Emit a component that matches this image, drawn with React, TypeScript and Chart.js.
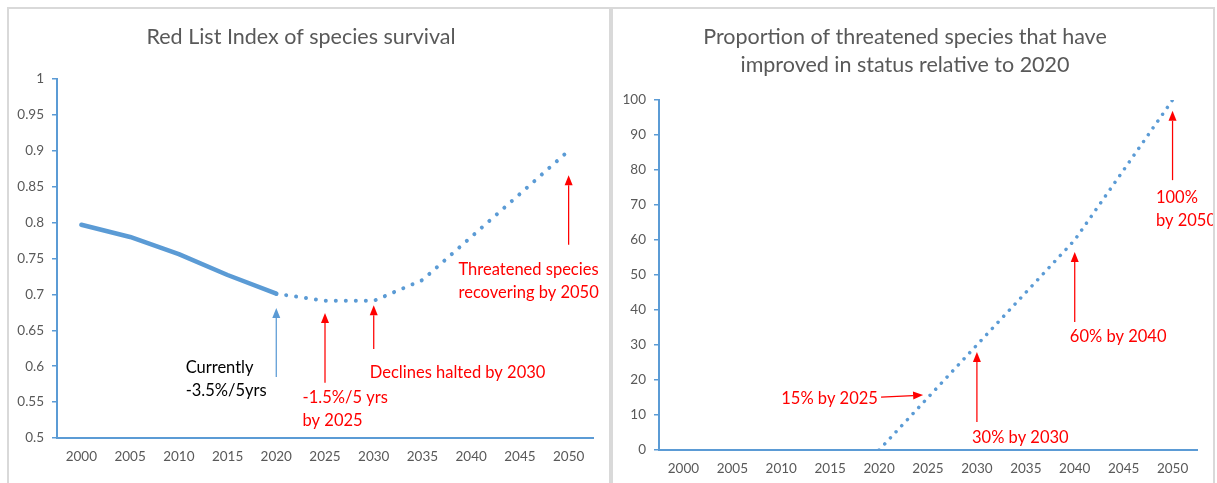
import React, { useEffect, useRef } from 'react';
import { Chart, registerables } from 'chart.js';

Chart.register(...registerables);

// ---------- data ----------
const YEARS = ['2000', '2005', '2010', '2015', '2020', '2025', '2030', '2035', '2040', '2045', '2050'];
const RLI_OBSERVED = [0.797, 0.78, 0.756, 0.727, 0.701, null, null, null, null, null, null];
const RLI_TARGET = [null, null, null, null, 0.701, 0.691, 0.691, 0.72, 0.78, 0.84, 0.9];
const IMPROVED_TARGET = [null, null, null, null, 0, 15, 30, 45, 60, 80, 100];
const RLI_TICKS = [0.5, 0.55, 0.6, 0.65, 0.7, 0.75, 0.8, 0.85, 0.9, 0.95, 1];
const IMPROVED_TICKS = [0, 10, 20, 30, 40, 50, 60, 70, 80, 90, 100];

const RLI_TITLE = 'Red List Index of species survival';
const IMPROVED_TITLE = ['Proportion of threatened species that have', 'improved in status relative to 2020'];

// ---------- styles ----------
const FONT = 'Lato, "Open Sans", sans-serif';
const BLUE = '#5B9BD5';
const RED = '#FF0000';
const BLACK = '#000000';
const GREY = '#595959';
const BORDER = '#D9D9D9';

// annotations (in data space: year, value)
const RLI_ARROWS = [
  { fromYear: 2020, from: 0.585, toYear: 2020, to: 0.681, color: BLUE },
  { fromYear: 2025, from: 0.577, toYear: 2025, to: 0.674, color: RED },
  { fromYear: 2030, from: 0.624, toYear: 2030, to: 0.685, color: RED },
  { fromYear: 2050, from: 0.769, toYear: 2050, to: 0.866, color: RED },
];
const RLI_NOTES = [
  { lines: ['Currently', '-3.5%/5yrs'], year: 2010.7, value: 0.5975, color: BLACK },
  { lines: ['-1.5%/5 yrs', 'by 2025'], year: 2022.7, value: 0.556, color: RED },
  { lines: ['Declines halted by 2030'], year: 2029.6, value: 0.5905, color: RED },
  { lines: ['Threatened species', 'recovering by 2050'], year: 2038.7, value: 0.734, color: RED },
];
const IMPROVED_ARROWS = [
  { fromYear: 2020.2, from: 15.1, toYear: 2024.5, to: 15.7, color: RED },
  { fromYear: 2030, from: 8, toYear: 2030, to: 28, color: RED },
  { fromYear: 2040, from: 36.6, toYear: 2040, to: 56.6, color: RED },
  { fromYear: 2050, from: 77.1, toYear: 2050, to: 96.9, color: RED },
];
const IMPROVED_NOTES = [
  { lines: ['15% by 2025'], year: 2010.0, value: 14.6, color: RED },
  { lines: ['30% by 2030'], year: 2029.5, value: 3.4, color: RED },
  { lines: ['60% by 2040'], year: 2039.5, value: 32.3, color: RED },
  { lines: ['100%', 'by 2050'], year: 2048.3, value: 72, color: RED },
];

function notesPlugin(arrows: any[], notes: any[]) {
  return {
    id: 'notes',
    afterDatasetsDraw(chart: any) {
      const { ctx, scales } = chart;
      const xs = scales.x;
      const ys = scales.y;
      const px = (year: number) => xs.getPixelForValue((year - 2000) / 5);
      ctx.save();
      for (const a of arrows) {
        const x1 = px(a.fromYear);
        const y1 = ys.getPixelForValue(a.from);
        const x2 = px(a.toYear);
        const y2 = ys.getPixelForValue(a.to);
        const dx = x2 - x1;
        const dy = y2 - y1;
        const len = Math.hypot(dx, dy);
        const ux = dx / len;
        const uy = dy / len;
        const hl = 10;
        const hw = 4;
        const bx = x2 - ux * hl;
        const by = y2 - uy * hl;
        ctx.strokeStyle = a.color;
        ctx.lineWidth = 1.25;
        ctx.beginPath();
        ctx.moveTo(x1, y1);
        ctx.lineTo(bx, by);
        ctx.stroke();
        ctx.fillStyle = a.color;
        ctx.beginPath();
        ctx.moveTo(x2, y2);
        ctx.lineTo(bx - uy * hw, by + ux * hw);
        ctx.lineTo(bx + uy * hw, by - ux * hw);
        ctx.closePath();
        ctx.fill();
      }
      ctx.font = `16.5px ${FONT}`;
      ctx.textAlign = 'left';
      ctx.textBaseline = 'middle';
      for (const n of notes) {
        const x = px(n.year);
        const y = ys.getPixelForValue(n.value);
        ctx.fillStyle = n.color;
        n.lines.forEach((t: string, i: number) => ctx.fillText(t, x, y + i * 22.5));
      }
      ctx.restore();
    },
  };
}

function buildConfig(p: any): any {
  return {
    type: 'line',
    data: { labels: YEARS, datasets: p.datasets },
    plugins: [notesPlugin(p.arrows, p.notes)],
    options: {
      responsive: false,
      animation: false,
      devicePixelRatio: 1,
      layout: { padding: { left: 0, right: p.padRight, top: 0, bottom: p.padBottom } },
      plugins: {
        legend: { display: false },
        tooltip: { enabled: false },
        title: {
          display: true,
          text: p.title,
          color: GREY,
          font: { family: FONT, size: 21.5, weight: 'normal', lineHeight: 28 / 21.5 },
          padding: { top: p.titleTop, bottom: p.titleBottom },
        },
      },
      elements: { point: { radius: 0 } },
      scales: {
        x: {
          type: 'category',
          offset: true,
          afterFit: (s: any) => { s.height = p.xHeight; },
          grid: { display: false, drawTicks: false },
          border: { display: true, color: BLUE, width: 2 },
          ticks: { color: GREY, font: { family: FONT, size: 13.5 }, padding: p.xPad, maxRotation: 0, autoSkip: false },
        },
        y: {
          min: p.yMin,
          max: p.yMax,
          afterBuildTicks: (s: any) => { s.ticks = p.yTicks.map((v: number) => ({ value: v })); },
          afterFit: (s: any) => { s.width = p.yWidth; },
          grid: { drawOnChartArea: false, drawTicks: true, tickLength: 5, color: BLUE, lineWidth: 1.5 },
          border: { display: true, color: BLUE, width: 2 },
          ticks: { color: GREY, font: { family: FONT, size: 13.5 }, padding: 8, callback: (v: any) => String(v) },
        },
      },
    },
  };
}

function ChartCanvas({ make }: { make: () => any }) {
  const ref = useRef<HTMLCanvasElement | null>(null);
  useEffect(() => {
    const c = new Chart(ref.current as HTMLCanvasElement, make());
    return () => c.destroy();
  }, []);
  return <canvas ref={ref} width={600} height={474} style={{ display: 'block' }} />;
}

const leftConfig = () =>
  buildConfig({
    title: RLI_TITLE,
    titleTop: 14,
    titleBottom: 28,
    padRight: 16,
    padBottom: 15,
    xHeight: 30,
    xPad: 11,
    yWidth: 48,
    yMin: 0.5,
    yMax: 1,
    yTicks: RLI_TICKS,
    arrows: RLI_ARROWS,
    notes: RLI_NOTES,
    datasets: [
      { data: RLI_OBSERVED, borderColor: BLUE, borderWidth: 4.5, borderCapStyle: 'round', borderJoinStyle: 'round', tension: 0 },
      { data: RLI_TARGET, borderColor: BLUE, borderWidth: 4, borderDash: [0.01, 10], borderCapStyle: 'round', tension: 0 },
    ],
  });

const rightConfig = () =>
  buildConfig({
    title: IMPROVED_TITLE,
    titleTop: 14,
    titleBottom: 21,
    padRight: 16,
    padBottom: 3,
    xHeight: 30,
    xPad: 11,
    yWidth: 46,
    yMin: 0,
    yMax: 100,
    yTicks: IMPROVED_TICKS,
    arrows: IMPROVED_ARROWS,
    notes: IMPROVED_NOTES,
    datasets: [
      { data: IMPROVED_TARGET, borderColor: BLUE, borderWidth: 3.5, borderDash: [0.01, 8.3], borderCapStyle: 'round', tension: 0 },
    ],
  });

export default function App() {
  const panel = (left: number): React.CSSProperties => ({
    position: 'absolute',
    left,
    top: 7,
    width: 600,
    height: 480,
    borderTop: `2px solid ${BORDER}`,
    borderLeft: `2px solid ${BORDER}`,
    borderRight: `2px solid ${BORDER}`,
    background: '#fff',
    overflow: 'hidden',
  });
  return (
    <div style={{ position: 'absolute', left: 0, top: 0, width: 1217, height: 483, background: '#fff', overflow: 'hidden' }}>
      <div style={panel(7)}>
        <ChartCanvas make={leftConfig} />
      </div>
      <div style={panel(611)}>
        <ChartCanvas make={rightConfig} />
      </div>
    </div>
  );
}
